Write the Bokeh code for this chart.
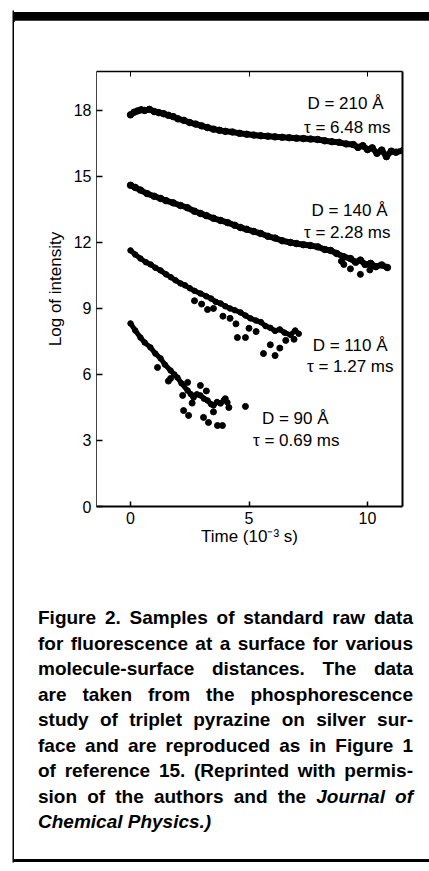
from bokeh.plotting import figure
from bokeh.layouts import row, column
from bokeh.models import (Range1d, LinearAxis, FixedTicker, Label, BoxAnnotation,
                          CustomJSTickFormatter, Div)
from bokeh.embed import file_html
from bokeh.resources import INLINE

# ---------------- data ----------------
X_TICKS = [0, 5, 10]
Y_TICKS = [0, 3, 6, 9, 12, 15, 18]

D210_X = [0.0, 0.15, 0.3, 0.45, 0.6, 0.8, 1.0, 1.2, 1.4, 1.6, 1.8, 2.0, 2.25, 2.5, 2.75,
          3.0, 3.25, 3.5, 3.75, 4.0, 4.3, 4.6, 4.9, 5.2, 5.5, 5.8, 6.1, 6.4, 6.7, 7.0,
          7.3, 7.6, 7.9, 8.2, 8.5, 8.8, 9.1, 9.4, 9.6, 9.8, 10.0, 10.2, 10.4, 10.6, 10.8,
          11.0, 11.2, 11.5]
D210_Y = [17.80, 17.92, 17.98, 18.03, 18.00, 18.05, 17.95, 17.90, 17.85, 17.78, 17.72,
          17.62, 17.55, 17.45, 17.38, 17.30, 17.22, 17.15, 17.10, 17.05, 17.02, 16.96,
          16.92, 16.88, 16.85, 16.83, 16.80, 16.78, 16.76, 16.74, 16.72, 16.70, 16.68,
          16.62, 16.58, 16.55, 16.48, 16.45, 16.32, 16.40, 16.22, 16.30, 16.05, 16.20,
          15.90, 16.15, 16.10, 16.18]

D140_X = [0.0, 0.2, 0.42, 0.7, 1.0, 1.27, 1.5, 1.8, 2.11, 2.4, 2.7, 2.95, 3.2, 3.5, 3.8,
          4.1, 4.4, 4.64, 4.9, 5.2, 5.49, 5.8, 6.1, 6.4, 6.75, 7.0, 7.3, 7.59, 7.9, 8.2,
          8.44, 8.7, 9.0, 9.28, 9.5, 9.7, 9.9, 10.13, 10.35, 10.6, 10.84]
D140_Y = [14.60, 14.50, 14.38, 14.22, 14.10, 14.00, 13.90, 13.80, 13.68, 13.58, 13.42,
          13.32, 13.22, 13.10, 13.00, 12.90, 12.78, 12.68, 12.60, 12.50, 12.41, 12.28,
          12.20, 12.08, 12.00, 11.95, 11.90, 11.86, 11.80, 11.68, 11.64, 11.50, 11.35,
          11.27, 11.10, 11.20, 11.00, 11.05, 10.90, 10.98, 10.86]
D140_OUT_X = [8.9, 9.0, 9.28, 9.7, 10.1]
D140_OUT_Y = [11.15, 11.0, 10.8, 10.55, 10.75]

D110_X = [0.0, 0.2, 0.42, 0.65, 0.85, 1.05, 1.27, 1.5, 1.7, 1.9, 2.11, 2.3, 2.5, 2.7,
          2.95, 3.2, 3.4, 3.6, 3.8, 4.0, 4.2, 4.4, 4.64, 4.85, 5.06, 5.3, 5.5, 5.7, 5.9,
          6.1, 6.3, 6.5, 6.75, 6.95, 7.1]
D110_Y = [11.64, 11.45, 11.27, 11.10, 11.00, 10.85, 10.73, 10.55, 10.42, 10.28, 10.14,
          10.05, 9.92, 9.80, 9.68, 9.55, 9.45, 9.30, 9.23, 9.10, 9.00, 8.92, 8.82, 8.68,
          8.55, 8.45, 8.38, 8.20, 8.12, 7.98, 8.05, 7.90, 7.80, 8.00, 7.85]
D110_OUT_X = [2.7, 3.0, 3.25, 3.5, 3.9, 4.2, 4.45, 4.51, 4.85, 5.0, 5.3, 5.61, 5.9, 6.1,
              6.3, 6.55, 6.9]
D110_OUT_Y = [9.35, 9.2, 8.95, 9.0, 8.65, 8.55, 8.3, 7.68, 7.68, 8.1, 7.95, 6.95, 7.35,
              6.86, 7.2, 7.55, 7.6]

D90_X = [0.0, 0.2, 0.42, 0.6, 0.84, 1.05, 1.27, 1.45, 1.69, 1.85, 1.98, 2.15, 2.41, 2.55,
         2.66, 2.8, 2.95, 3.1, 3.25, 3.4, 3.5, 3.65, 3.8, 3.95, 4.09]
D90_Y = [8.32, 8.00, 7.68, 7.45, 7.23, 6.95, 6.73, 6.45, 6.18, 6.00, 5.86, 5.60, 5.27,
         5.10, 4.95, 5.10, 5.05, 4.90, 4.82, 4.65, 4.59, 4.75, 4.68, 4.85, 4.73]
D90_OUT_X = [1.14, 1.6, 1.69, 2.2, 2.24, 2.41, 2.45, 2.6, 2.95, 3.08, 3.2, 3.29, 3.5,
             3.67, 3.88, 4.0, 4.15, 4.85]
D90_OUT_Y = [6.32, 5.7, 5.82, 5.05, 4.36, 5.64, 4.14, 4.7, 5.5, 4.05, 5.25, 3.82, 4.3,
             3.68, 3.68, 4.9, 4.5, 4.55]

CURVE_LABELS = [("D = 210 Å", "τ = 6.48 ms"),
                ("D = 140 Å", "τ = 2.28 ms"),
                ("D = 110 Å", "τ = 1.27 ms"),
                ("D = 90 Å", "τ = 0.69 ms")]

X_LABEL = "Time (10⁻³ s)"
Y_LABEL = "Log of intensity"

CAPTION = [
    "Figure 2. Samples of standard raw data",
    "for fluorescence at a surface for various",
    "molecule-surface distances. The data",
    "are taken from the phosphorescence",
    "study of triplet pyrazine on silver sur-",
    "face and are reproduced as in Figure 1",
    "of reference 15. (Reprinted with permis-",
    "sion of the authors and the Journal of",
    "Chemical Physics.)",
]
CAPTION_ITALIC = {7: {6, 7}, 8: {0, 1}}

# ---------------- page geometry (global pixels) ----------------
W, H = 429, 871
STRIP_W = 14          # left strip holding the page rule
HEAD_H = 20           # strip holding the black top bar
PLOT_H = 540          # plot figure height (global y 20..560)
CAP_TOP = HEAD_H + PLOT_H
FL, FR, FT, FB = 96, 402, 71, 506
X0, X1 = -1.435, 11.477
Y0, Y1 = 0.0, 19.77
FONT = "Liberation Sans"


def dx(px):
    return X0 + (px - FL) * (X1 - X0) / (FR - FL)


def dy(py):
    return Y0 + (FB - py) * (Y1 - Y0) / (FB - FT)


# ---------------- left strip (page rule) ----------------
strip = figure(width=STRIP_W, height=H, x_range=Range1d(0, STRIP_W), y_range=Range1d(H, 0),
               output_backend="svg", toolbar_location=None,
               x_axis_location=None, y_axis_location=None,
               min_border=0, min_border_left=0, min_border_right=0,
               min_border_top=0, min_border_bottom=0)
strip.grid.visible = False
strip.outline_line_color = None
strip.background_fill_color = "white"
strip.border_fill_color = "white"
strip.add_layout(BoxAnnotation(left=12, right=STRIP_W, top=10, bottom=862,
                               fill_color="black", fill_alpha=1.0, line_color=None))

# ---------------- top bar ----------------
head = Div(width=W - STRIP_W, height=HEAD_H, margin=0,
           text=f'<div style="position:relative;top:10px;width:{W - STRIP_W}px;'
                f'height:10px;background:#000;"></div>')

# ---------------- plot ----------------
p = figure(width=W - STRIP_W, height=PLOT_H, x_range=Range1d(X0, X1),
           y_range=Range1d(Y0, Y1), output_backend="svg", toolbar_location=None,
           min_border_left=FL - STRIP_W, min_border_right=W - FR,
           min_border_top=FT - HEAD_H, min_border_bottom=CAP_TOP - FB)
p.xgrid.visible = False
p.ygrid.visible = False
p.outline_line_color = None
p.background_fill_color = "white"
p.border_fill_color = "white"

xa = p.xaxis[0]
xa.ticker = FixedTicker(ticks=X_TICKS)
xa.major_tick_in = 5
xa.major_tick_out = 0
xa.minor_tick_line_color = None
xa.axis_line_width = 2
xa.major_tick_line_width = 1.5
xa.major_label_standoff = 5
xa.major_label_text_font = FONT
xa.major_label_text_font_size = "16px"
xa.major_label_text_color = "black"
xa.axis_label = X_LABEL
xa.axis_label_text_font = FONT
xa.axis_label_text_font_style = "normal"
xa.axis_label_text_font_size = "17px"
xa.axis_label_text_color = "black"
xa.axis_label_standoff = 0

ya = p.yaxis[0]
ya.ticker = FixedTicker(ticks=Y_TICKS)
ya.major_tick_in = 6
ya.major_tick_out = 0
ya.minor_tick_line_color = None
ya.axis_line_width = 1
ya.axis_line_color = "#444444"
ya.major_tick_line_width = 1.5
ya.major_label_standoff = 5
ya.major_label_text_font = FONT
ya.major_label_text_font_size = "16px"
ya.major_label_text_color = "black"
ya.axis_label = Y_LABEL
ya.axis_label_text_font = FONT
ya.axis_label_text_font_style = "normal"
ya.axis_label_text_font_size = "17px"
ya.axis_label_text_color = "black"
ya.axis_label_standoff = 6

top = LinearAxis(ticker=FixedTicker(ticks=X_TICKS),
                 formatter=CustomJSTickFormatter(code="return ''"))
top.major_tick_in = 5
top.major_tick_out = 0
top.minor_tick_line_color = None
top.axis_line_width = 1.5
p.add_layout(top, "above")

right = LinearAxis(ticker=FixedTicker(ticks=[]))
right.major_tick_in = 0
right.major_tick_out = 0
right.minor_tick_line_color = None
right.axis_line_width = 2
p.add_layout(right, "right")

for xs, ys, lw, sz in [(D210_X, D210_Y, 6, 6.5), (D140_X, D140_Y, 6, 6.5),
                       (D110_X, D110_Y, 5, 5.5), (D90_X, D90_Y, 5, 5.5)]:
    p.line(xs, ys, line_width=lw, line_color="black", line_join="round", line_cap="round")
    p.scatter(xs, ys, size=sz, color="black")

for xs, ys in [(D140_OUT_X, D140_OUT_Y), (D110_OUT_X, D110_OUT_Y), (D90_OUT_X, D90_OUT_Y)]:
    p.scatter(xs, ys, size=6, color="black")

# curve labels: (right edge px, baseline px) for the D line and the tau line
LABEL_POS = [((383, 103), (390, 127)),
             ((387, 210), (390, 232)),
             ((387, 345), (393, 366)),
             ((328, 418), (339, 440))]
for (dtext, ttext), ((dxr, dyb), (txr, tyb)) in zip(CURVE_LABELS, LABEL_POS):
    for txt, xr, yb in [(dtext, dxr, dyb), (ttext, txr, tyb)]:
        p.add_layout(Label(x=dx(xr), y=dy(yb), text=txt, text_align="right",
                           text_baseline="alphabetic", text_font=FONT,
                           text_font_size="17px", text_color="black"))

# ---------------- caption (each line justified) ----------------
CAP_H = H - CAP_TOP
CAP_SIZE = 19
CAP_STEP = 25.5
CAP_LEFT = 38 - STRIP_W
CAP_WIDTH = 413 - 38
CAP_FIRST_BASE = 624 - CAP_TOP
CAP_TOP_OFFSET = round(CAP_FIRST_BASE - ((CAP_STEP - 1.117 * CAP_SIZE) / 2 + 0.905 * CAP_SIZE))
RULE_Y = 859 - CAP_TOP

lines_html = []
for i, line in enumerate(CAPTION):
    words = line.split(" ")
    parts = [f"<i>{w}</i>" if j in CAPTION_ITALIC.get(i, set()) else w
             for j, w in enumerate(words)]
    align = "justify" if i < len(CAPTION) - 1 else "left"
    lines_html.append(
        f'<div style="text-align:{align};text-align-last:{align};'
        f'height:{CAP_STEP}px;line-height:{CAP_STEP}px;">{" ".join(parts)}</div>')

cap_html = (
    f'<div style="position:relative;width:{W - STRIP_W}px;height:{CAP_H}px;">'
    f'<div style="position:absolute;left:{CAP_LEFT}px;top:{CAP_TOP_OFFSET}px;'
    f'width:{CAP_WIDTH}px;font-family:\'{FONT}\';font-weight:bold;'
    f'font-size:{CAP_SIZE}px;color:#000;">' + "".join(lines_html) + '</div>'
    f'<div style="position:absolute;left:0;top:{RULE_Y}px;width:{W - STRIP_W}px;'
    f'height:2.5px;background:#000;"></div></div>'
)
cap = Div(width=W - STRIP_W, height=CAP_H, margin=0, text=cap_html)

layout = row(strip, column(head, p, cap, spacing=0), spacing=0)
open("out.html", "w").write(file_html(layout, INLINE))
